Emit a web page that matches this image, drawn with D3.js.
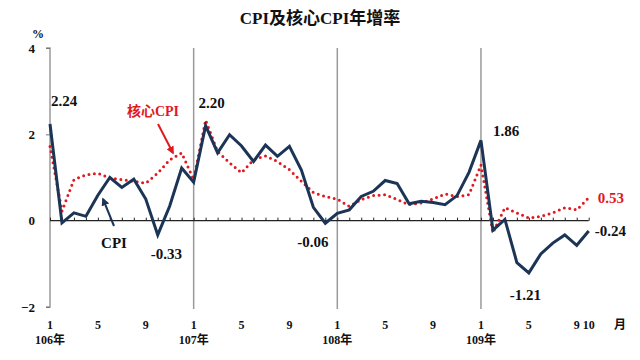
<!DOCTYPE html>
<html>
<head>
<meta charset="utf-8">
<script src="https://cdn.jsdelivr.net/npm/d3@7"></script>
<style>
  body { margin: 0; background: #fff; }
  svg text { font-family: "Liberation Serif", "Noto Sans CJK TC", serif; font-weight: bold; }
</style>
</head>
<body>
<div id="chart"></div>
<script>
// months from 106/1 to 109/10 (ROC years)
var years = [106, 107, 108, 109];
var monthsInYear = [12, 12, 12, 10];

// CPI year-over-year growth (%)
var cpi = [
  2.24, -0.05, 0.18, 0.10, 0.59, 1.00, 0.77, 0.96, 0.50, -0.33, 0.34, 1.22,
  0.89, 2.20, 1.57, 1.99, 1.73, 1.37, 1.75, 1.49, 1.72, 1.17, 0.31, -0.06,
  0.17, 0.25, 0.56, 0.68, 0.93, 0.86, 0.39, 0.45, 0.42, 0.37, 0.58, 1.12,
  1.86, -0.22, 0.03, -0.97, -1.21, -0.77, -0.52, -0.33, -0.57, -0.24
];

// core CPI year-over-year growth (%)
var core = [
  1.72, 0.22, 0.95, 1.06, 1.10, 0.99, 0.95, 0.91, 0.87, 1.10, 1.41, 1.57,
  0.95, 2.33, 1.60, 1.34, 1.11, 1.41, 1.50, 1.37, 1.18, 0.91, 0.65, 0.56,
  0.50, 0.33, 0.49, 0.58, 0.60, 0.49, 0.37, 0.41, 0.50, 0.62, 0.56, 0.60,
  1.29, -0.28, 0.30, 0.18, 0.06, 0.10, 0.18, 0.30, 0.25, 0.53
];

var yTicks = [-2, 0, 2, 4];
var monthLabels = [1, 5, 9];

// value callouts: [series, index, text]
var callouts = [
  ["cpi", 0, "2.24"], ["cpi", 13, "2.20"], ["cpi", 9, "-0.33"], ["cpi", 23, "-0.06"],
  ["cpi", 36, "1.86"], ["cpi", 40, "-1.21"], ["cpi", 45, "-0.24"], ["core", 45, "0.53"]
];

var W = 640, H = 360;
var n = cpi.length;
var FONT = "'Liberation Serif', 'Noto Sans CJK TC', serif";

var x = d3.scaleLinear().domain([0, n - 1]).range([50, 588.7]);
var y = d3.scaleLinear().domain([-2, 4]).range([307, 48]);

var svg = d3.select("#chart").append("svg")
  .attr("width", W).attr("height", H);

// title
svg.append("text")
  .attr("x", 320).attr("y", 24)
  .attr("text-anchor", "middle")
  .attr("font-size", 17)
  .attr("fill", "#111")
  .text("CPI及核心CPI年增率");

// year separators
var yearStart = [];
var acc = 0;
monthsInYear.forEach(function (m) { yearStart.push(acc); acc += m; });

svg.selectAll("line.sep")
  .data(yearStart.slice(1))
  .enter().append("line")
  .attr("class", "sep")
  .attr("x1", function (d) { return x(d); })
  .attr("x2", function (d) { return x(d); })
  .attr("y1", y(4)).attr("y2", y(-2) + 2)
  .attr("stroke", "#9a9a9a").attr("stroke-width", 1.5);

// y axis
var yAxis = d3.axisLeft(y).tickValues(yTicks).tickSize(4).tickFormat(d3.format("d"));
var gy = svg.append("g").attr("transform", "translate(50,0)").call(yAxis);
gy.attr("font-family", FONT);
gy.select(".domain").attr("stroke", "#9a9a9a").attr("stroke-width", 1.5)
  .attr("d", "M-4," + y(4) + "H0V" + y(-2) + "H-4");
gy.selectAll(".tick line").attr("stroke", "#777");
gy.selectAll(".tick text")
  .attr("font-size", 13).attr("fill", "#111").attr("x", -15)
  .style("font-family", FONT).style("font-weight", "bold");
gy.selectAll(".tick").filter(function (d) { return d === 0; }).select("line").remove();

svg.append("text")
  .attr("x", 32).attr("y", 38)
  .attr("font-size", 12).attr("fill", "#111")
  .text("%");

// x axis at zero, ticks every month pointing up
var xAxis = d3.axisTop(x).tickValues(d3.range(n)).tickSize(3).tickFormat("");
var gx = svg.append("g").attr("transform", "translate(0," + y(0) + ")").call(xAxis);
gx.select(".domain").attr("stroke", "#222").attr("stroke-width", 1.2)
  .attr("d", "M" + x(0) + ",0H" + x(n - 1));
gx.selectAll(".tick line").attr("stroke", "#222");

// month labels
var mTicks = [];
years.forEach(function (yr, k) {
  for (var m = 1; m <= monthsInYear[k]; m++) {
    if (monthLabels.indexOf(m) >= 0 || (k === years.length - 1 && m === monthsInYear[k])) {
      mTicks.push({ i: yearStart[k] + m - 1, m: m });
    }
  }
});
svg.selectAll("text.mon")
  .data(mTicks)
  .enter().append("text")
  .attr("class", "mon")
  .attr("x", function (d) { return x(d.i); })
  .attr("y", 329)
  .attr("text-anchor", "middle")
  .attr("font-size", 12).attr("fill", "#111")
  .text(function (d) { return d.m; });

svg.selectAll("text.yr")
  .data(years)
  .enter().append("text")
  .attr("class", "yr")
  .attr("x", function (d, k) { return x(yearStart[k]); })
  .attr("y", 344)
  .attr("text-anchor", "middle")
  .attr("font-size", 12).attr("fill", "#111")
  .text(function (d) { return d + "年"; });

svg.append("text")
  .attr("x", 620).attr("y", 329)
  .attr("text-anchor", "middle")
  .attr("font-size", 12).attr("fill", "#111")
  .text("月");

// lines
var line = d3.line()
  .x(function (d, i) { return x(i); })
  .y(function (d) { return y(d); });

svg.append("path")
  .datum(core)
  .attr("d", line)
  .attr("fill", "none")
  .attr("stroke", "#e0191f")
  .attr("stroke-width", 3)
  .attr("stroke-linecap", "round")
  .attr("stroke-dasharray", "0 5.5");

svg.append("path")
  .datum(cpi)
  .attr("d", line)
  .attr("fill", "none")
  .attr("stroke", "#1c3456")
  .attr("stroke-width", 3)
  .attr("stroke-linejoin", "miter");

// callouts
var offsets = {
  "2.24": [1, -18], "2.20": [-7, -18], "-0.33": [-7, 24], "-0.06": [-28, 24],
  "1.86": [12, -4], "-1.21": [-19, 27], "-0.24": [6, 5], "0.53": [9, 5]
};
svg.selectAll("text.call")
  .data(callouts)
  .enter().append("text")
  .attr("class", "call")
  .attr("x", function (d) { return x(d[1]) + offsets[d[2]][0]; })
  .attr("y", function (d) { return y(d[0] === "cpi" ? cpi[d[1]] : core[d[1]]) + offsets[d[2]][1]; })
  .attr("font-size", 15)
  .attr("fill", function (d) { return d[0] === "core" ? "#e0191f" : "#111"; })
  .text(function (d) { return d[2]; });

// series labels with arrows
var defs = svg.append("defs");
[["arRed", "#e0191f"], ["arBlue", "#1c3456"]].forEach(function (a) {
  defs.append("marker")
    .attr("id", a[0]).attr("viewBox", "0 0 10 10")
    .attr("refX", 8).attr("refY", 5)
    .attr("markerWidth", 4).attr("markerHeight", 4)
    .attr("orient", "auto")
    .append("path").attr("d", "M0,0L10,5L0,10z").attr("fill", a[1]);
});

svg.append("text")
  .attr("x", 153).attr("y", 116)
  .attr("text-anchor", "middle")
  .attr("font-size", 14).attr("fill", "#e0191f")
  .text("核心CPI");
svg.append("line")
  .attr("x1", 158).attr("y1", 124).attr("x2", 173).attr("y2", 153)
  .attr("stroke", "#e0191f").attr("stroke-width", 2)
  .attr("marker-end", "url(#arRed)");

svg.append("text")
  .attr("x", 114).attr("y", 248)
  .attr("text-anchor", "middle")
  .attr("font-size", 15).attr("fill", "#111")
  .text("CPI");
svg.append("line")
  .attr("x1", 114).attr("y1", 226).attr("x2", 103).attr("y2", 199)
  .attr("stroke", "#1c3456").attr("stroke-width", 2)
  .attr("marker-end", "url(#arBlue)");
</script>
</body>
</html>
